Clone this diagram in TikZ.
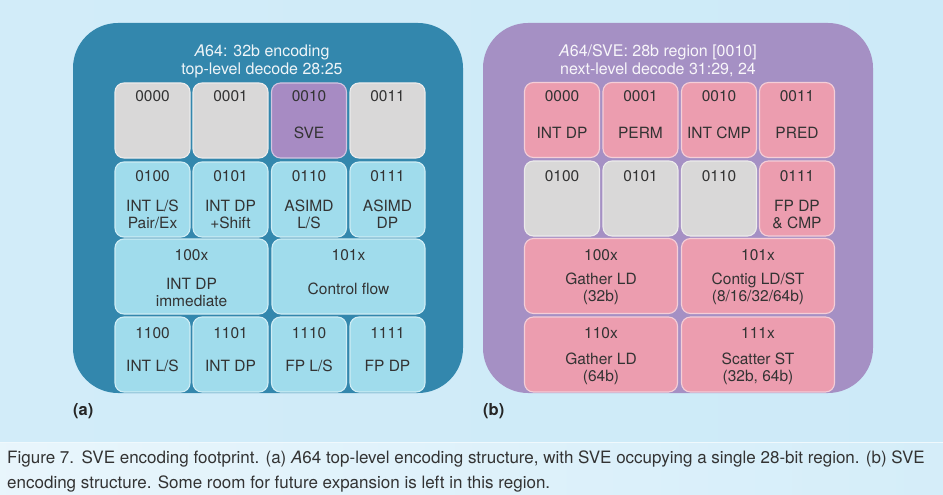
\documentclass[tikz,border=0pt]{standalone}
\usepackage{fontspec}
\setmainfont{TeX Gyre Heros}
\definecolor{bgblue}{HTML}{CDEAF8}
\definecolor{panelblue}{HTML}{3387AD}
\definecolor{panelpurple}{HTML}{A590C4}
\definecolor{cellgrey}{HTML}{D9D8D8}
\definecolor{cellblue}{HTML}{A0DCEC}
\definecolor{cellsve}{HTML}{A78BC3}
\definecolor{cellpink}{HTML}{EC9DAF}
\definecolor{celltext}{HTML}{333333}
\tikzset{
  cell/.style={draw=#1!50!white,fill=#1,line width=1.1pt,rounded corners=9pt,
    minimum width=75pt,minimum height=75pt,inner sep=0pt},
  widecell/.style={cell=#1,minimum width=153pt},
  codelabel/.style={text=celltext,inner sep=0pt,font=\fontsize{15.5}{17}\selectfont},
  desclabel/.style={codelabel,align=center},
  paneltitle/.style={inner sep=0pt,anchor=base,font=\fontsize{16}{19}\selectfont},
  sublabel/.style={inner sep=0pt,anchor=base west,text=black!85,font=\fontsize{16.5}{19}\selectfont\bfseries},
  captionline/.style={inner sep=0pt,anchor=base west,text=black!80,font=\fontsize{17}{20}\selectfont}
}
\begin{document}
\begin{tikzpicture}[x=1pt,y=-1pt]
  \useasboundingbox (0,0) rectangle (943,495);
  %背景
  \shade[left color=bgblue!90!white,middle color=bgblue!25!white,right color=bgblue] (0,0) rectangle (943,442);
  \shade[left color=bgblue!45!white,middle color=white,right color=bgblue!85!white] (0,442) rectangle (943,495);
  \draw[white!70!bgblue,line width=0.8pt] (0,442) -- (943,442);

  %(a) 顶层编码
  \fill[panelblue,rounded corners=45pt] (73,23) rectangle (463,393);
  \node[paneltitle,text=white!92!panelblue] (atitle1) at (262,57) {\textit{A}64: 32b encoding};
  \node[paneltitle,text=white!92!panelblue] (atitle2) at (262,75) {top-level decode 28:25};
  %第一行
  \foreach \cx/\code in {152.5/0000,230.5/0001,387.5/0011}{
    \node[cell=cellgrey] (a\code) at (\cx,120.5) {};
    \node[codelabel] (a\code-c) at (\cx,96) {\code};
  }
  \node[cell=cellsve] (a0010) at (309,120.5) {};
  \node[codelabel] (a0010-c) at (309,96) {0010};
  \node[desclabel] (a0010-d) at (309,133) {SVE};
  %第二行
  \foreach \cx/\code/\desc in {152.5/0100/{INT L/S\\Pair/Ex},230.5/0101/{INT DP\\+Shift},
      309/0110/{ASIMD\\L/S},387.5/0111/{ASIMD\\DP}}{
    \node[cell=cellblue] (a\code) at (\cx,199.5) {};
    \node[codelabel] (a\code-c) at (\cx,176) {\code};
    \node[desclabel] (a\code-d) at (\cx,214) {\desc};
  }
  %第三行
  \node[widecell=cellblue] (a100x) at (191.5,276.5) {};
  \node[codelabel] (a100x-c) at (191.5,255) {100x};
  \node[desclabel] (a100x-d) at (191.5,292.5) {INT DP\\immediate};
  \node[widecell=cellblue] (a101x) at (348.5,276.5) {};
  \node[codelabel] (a101x-c) at (348.5,255) {101x};
  \node[desclabel] (a101x-d) at (348.5,289) {Control flow};
  %第四行
  \foreach \cx/\code/\desc in {152.5/1100/{INT L/S},230.5/1101/{INT DP},
      309/1110/{FP L/S},387.5/1111/{FP DP}}{
    \node[cell=cellblue] (a\code) at (\cx,354.5) {};
    \node[codelabel] (a\code-c) at (\cx,333) {\code};
    \node[desclabel] (a\code-d) at (\cx,366) {\desc};
  }
  \node[sublabel] (alabel) at (73,415) {(a)};

  %(b) SVE 区域
  \fill[panelpurple,rounded corners=45pt] (483,23) rectangle (873,393);
  \node[paneltitle,text=white!92!panelpurple] (btitle1) at (658,57) {\textit{A}64/SVE: 28b region [0010]};
  \node[paneltitle,text=white!92!panelpurple] (btitle2) at (658,75) {next-level decode 31:29, 24};
  %第一行
  \foreach \cx/\code/\desc in {562/0000/{INT DP},640.5/0001/{PERM},
      719/0010/{INT CMP},797/0011/{PRED}}{
    \node[cell=cellpink] (b\code) at (\cx,120) {};
    \node[codelabel] (b\code-c) at (\cx,96) {\code};
    \node[desclabel] (b\code-d) at (\cx,133) {\desc};
  }
  %第二行
  \foreach \cx/\code in {562/0100,640.5/0101,719/0110}{
    \node[cell=cellgrey] (b\code) at (\cx,198.5) {};
    \node[codelabel] (b\code-c) at (\cx,176) {\code};
  }
  \node[cell=cellpink] (b0111) at (797,198.5) {};
  \node[codelabel] (b0111-c) at (797,176) {0111};
  \node[desclabel] (b0111-d) at (797,214.5) {FP DP\\\& CMP};
  %第三、四行
  \foreach \cx/\code/\desc in {601/100x/{Gather LD\\(32b)},758/101x/{Contig LD/ST\\(8/16/32/64b)}}{
    \node[widecell=cellpink] (b\code) at (\cx,276) {};
    \node[codelabel] (b\code-c) at (\cx,255) {\code};
    \node[desclabel] (b\code-d) at (\cx,288.5) {\desc};
  }
  \foreach \cx/\code/\desc in {601/110x/{Gather LD\\(64b)},758/111x/{Scatter ST\\(32b, 64b)}}{
    \node[widecell=cellpink] (b\code) at (\cx,354.5) {};
    \node[codelabel] (b\code-c) at (\cx,333) {\code};
    \node[desclabel] (b\code-d) at (\cx,368.5) {\desc};
  }
  \node[sublabel] (blabel) at (483,415) {(b)};

  %图注
  \node[captionline] (cap1) at (7,463) {Figure 7.\hspace{0.45em}SVE encoding footprint. (a) \textit{A}64 top-level encoding structure, with SVE occupying a single 28-bit region. (b) SVE};
  \node[captionline] (cap2) at (7,488) {encoding structure. Some room for future expansion is left in this region.};
\end{tikzpicture}
\end{document}
